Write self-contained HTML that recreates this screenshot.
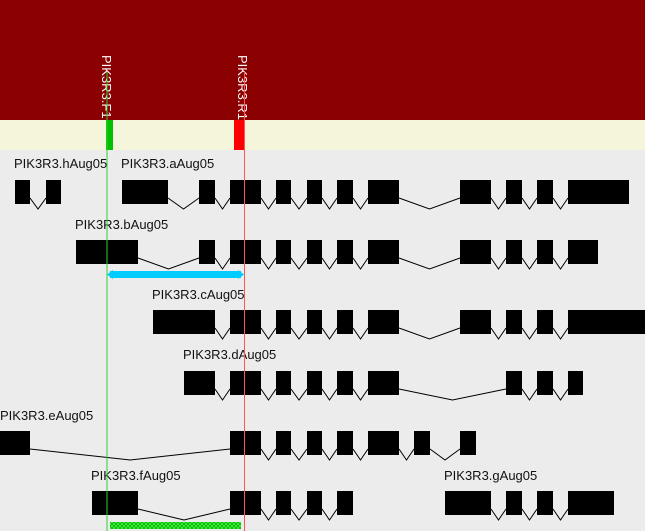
<!DOCTYPE html>
<html><head><meta charset="utf-8"><style>
html,body{margin:0;padding:0;width:645px;height:531px;overflow:hidden;background:#ececec}
svg{display:block}
text{font-family:"Liberation Sans",sans-serif;font-size:13px}
</style></head><body>
<svg id="s" width="645" height="531" xmlns="http://www.w3.org/2000/svg">
<defs>
<pattern id="hp" width="4" height="4" patternUnits="userSpaceOnUse">
<rect width="4" height="4" fill="#33ff33"/><path d="M0 0L4 4M4 0L0 4" stroke="#119911" stroke-width="0.7"/>
</pattern>
</defs>
<rect x="0" y="0" width="645" height="120" fill="#8b0000"/>
<rect x="0" y="120" width="645" height="30" fill="#f5f5dc"/>
<rect x="0" y="150" width="645" height="381" fill="#ececec"/>
<rect x="106" y="120" width="7" height="30" fill="#00c000"/>
<rect x="234" y="120" width="11" height="30" fill="#ff0000"/>
<text transform="translate(102,55) rotate(90)" fill="#fff">PIK3R3.F1</text>
<text transform="translate(238,55) rotate(90)" fill="#fff">PIK3R3.R1</text>
<text x="14" y="168" fill="#111">PIK3R3.hAug05</text>
<text x="121" y="168" fill="#111">PIK3R3.aAug05</text>
<text x="75" y="229" fill="#111">PIK3R3.bAug05</text>
<text x="152" y="299" fill="#111">PIK3R3.cAug05</text>
<text x="183" y="359" fill="#111">PIK3R3.dAug05</text>
<text x="0" y="420" fill="#111">PIK3R3.eAug05</text>
<text x="91" y="480" fill="#111">PIK3R3.fAug05</text>
<text x="444" y="480" fill="#111">PIK3R3.gAug05</text>
<g id="g"></g>
<rect x="110" y="271" width="131" height="7" fill="#00ccff"/>
<path d="M107 274.5L113 270L113 279Z M244 274.5L238 270L238 279Z" fill="#00ccff"/>
<rect x="110" y="522" width="131" height="7" fill="url(#hp)"/>
<line x1="107" y1="72" x2="107" y2="531" stroke="#33cc33" stroke-width="1"/>
<line x1="244.5" y1="72" x2="244.5" y2="531" stroke="#ff5555" stroke-width="1"/>
</svg>
<script>
var rows=[
[180,[[15,30],[46,61]]],
[180,[[122,168],[199,215],[230,261],[276,291],[307,322],[337,353],[368,399],[460,491],[506,522],[537,553],[568,629]]],
[240,[[76,138],[199,215],[230,261],[276,291],[307,322],[337,353],[368,399],[460,491],[506,522],[537,553],[568,598]]],
[310,[[153,215],[230,261],[276,291],[307,322],[337,353],[368,399],[460,491],[506,522],[537,553],[568,645]]],
[371,[[184,215],[230,261],[276,291],[307,322],[337,353],[368,399],[506,522],[537,553],[568,583]]],
[431,[[0,30],[230,261],[276,291],[307,322],[337,353],[368,399],[414,430],[460,476]]],
[491,[[92,138],[230,261],[276,291],[307,322],[337,353]]],
[491,[[445,491],[506,522],[537,553],[568,614]]]];
var h='';
rows.forEach(function(r){var y=r[0],e=r[1];
for(var i=0;i<e.length;i++){h+='<rect x="'+e[i][0]+'" y="'+y+'" width="'+(e[i][1]-e[i][0])+'" height="24" fill="#000"/>';
if(i<e.length-1){var a=e[i][1],b=e[i+1][0],m=(a+b)/2;h+='<polyline points="'+a+','+(y+18)+' '+m+','+(y+29)+' '+b+','+(y+18)+'" fill="none" stroke="#000" stroke-width="1"/>';}}});
document.getElementById('g').innerHTML=h;
</script>
</body></html>
